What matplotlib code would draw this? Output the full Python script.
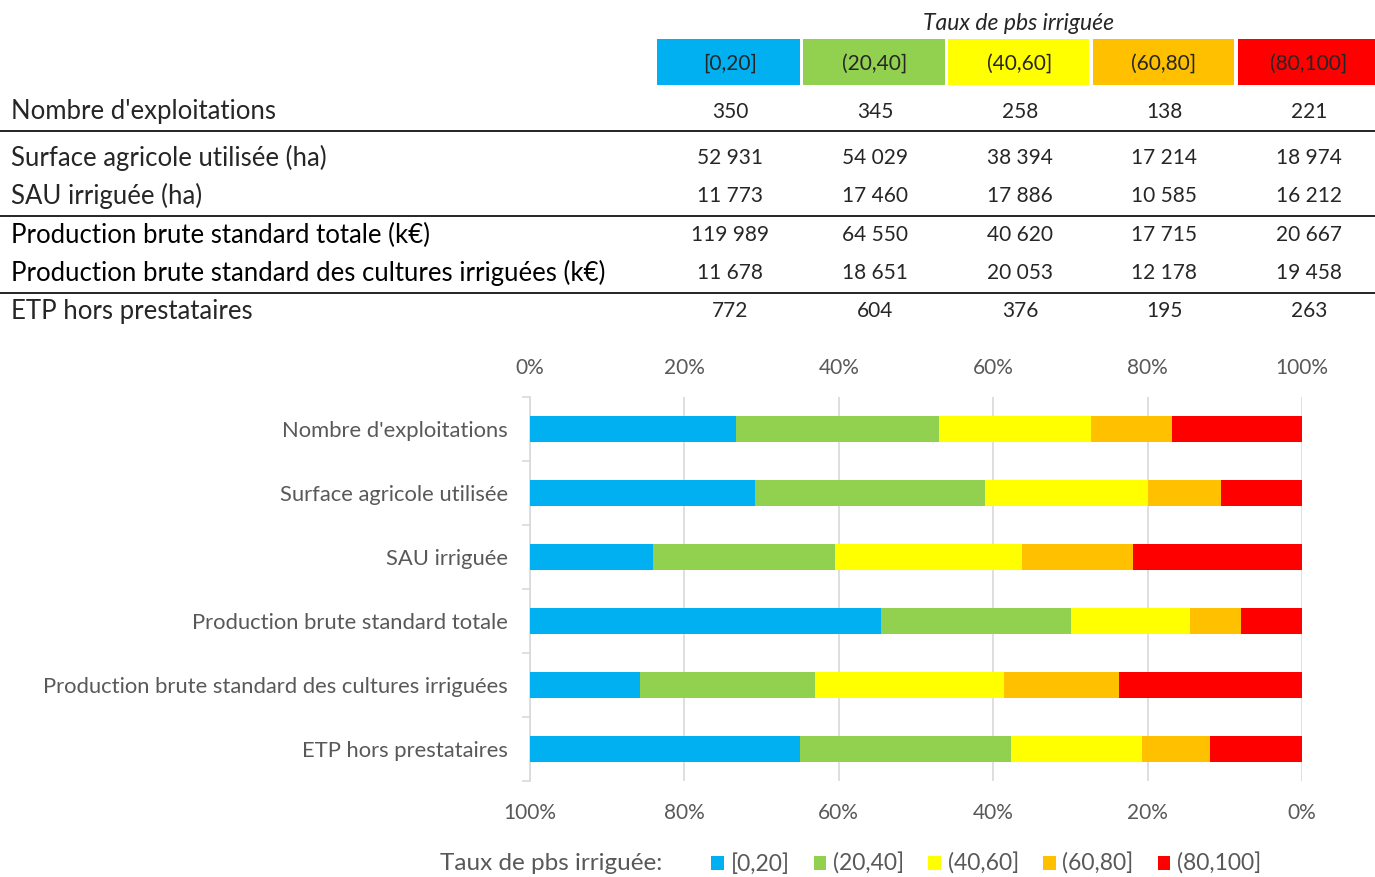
import numpy as np
import matplotlib
matplotlib.use("Agg")
import matplotlib.pyplot as plt
from matplotlib.patches import Rectangle, Patch

# ---------------- data ----------------
groups = ["[0,20]", "(20,40]", "(40,60]", "(60,80]", "(80,100]"]
colors = ["#00B0F0", "#92D050", "#FFFF00", "#FFC000", "#FF0000"]

table_rows = ["Nombre d'exploitations",
              "Surface agricole utilisée (ha)",
              "SAU irriguée (ha)",
              "Production brute standard totale (k€)",
              "Production brute standard des cultures irriguées (k€)",
              "ETP hors prestataires"]
nb_exploitations = [350, 345, 258, 138, 221]
sau = [52931, 54029, 38394, 17214, 18974]
sau_irriguee = [11773, 17460, 17886, 10585, 16212]
pbs_totale = [119989, 64550, 40620, 17715, 20667]
pbs_irriguee = [11678, 18651, 20053, 12178, 19458]
etp = [772, 604, 376, 195, 263]

bar_categories = ["Nombre d'exploitations",
                  "Surface agricole utilisée",
                  "SAU irriguée",
                  "Production brute standard totale",
                  "Production brute standard des cultures irriguées",
                  "ETP hors prestataires"]
pct_ticks = [0, 20, 40, 60, 80, 100]

values = np.array([nb_exploitations, sau, sau_irriguee, pbs_totale, pbs_irriguee, etp], dtype=float)
shares = values / values.sum(axis=1, keepdims=True) * 100

def fmt(v):
    return f"{v:,}".replace(",", "\u00a0")

W, H = 1375, 877
plt.rcParams['font.family'] = ['Lato', 'DejaVu Sans']
fig = plt.figure(figsize=(W / 100, H / 100), dpi=100)

# ---------------- table (pixel overlay) ----------------
tab = fig.add_axes([0, 0, 1, 1])
tab.set_xlim(0, W)
tab.set_ylim(H, 0)
tab.axis("off")

col_left = [657, 803, 948, 1093, 1238]
col_right = [800, 945, 1089, 1234, 1375]
col_center = [730, 875, 1020, 1164, 1309]
tab.text(1019, 24, "Taux de pbs irriguée", ha="center", va="center",
         fontsize=16.5, style="italic", color="#262626")
for i, g in enumerate(groups):
    tab.add_patch(Rectangle((col_left[i], 39), col_right[i] - col_left[i], 46,
                            facecolor=colors[i], edgecolor="none"))
    tab.text(col_center[i], 64, g, ha="center", va="center", fontsize=15,
             color="#262626")

row_y = [112, 158, 196, 235, 273, 311]
row_bold = [False, False, False, True, True, False]
for r, (lab, yy) in enumerate(zip(table_rows, row_y)):
    tab.text(11, yy, lab, ha="left", va="center", fontsize=18.5,
             color="#000000" if row_bold[r] else "#262626")
    for c in range(5):
        tab.text(col_center[c], yy, fmt(int(values[r, c])), ha="center", va="center",
                 fontsize=15, color="#262626")
for ly in [131, 216, 293]:
    tab.plot([0, W], [ly, ly], color="black", lw=1.2)

# ---------------- bar chart ----------------
ax = fig.add_axes([530 / W, 1 - 781 / H, (1302 - 530) / W, (781 - 397) / H])
y = np.arange(len(bar_categories))
left = np.zeros(len(bar_categories))
handles = []
for i, g in enumerate(groups):
    ax.barh(y, shares[:, i], left=left, height=0.4, color=colors[i], label=g, zorder=3)
    left += shares[:, i]
    handles.append(Patch(facecolor=colors[i], edgecolor="none", label=g))

ax.set_xlim(0, 100)
ax.set_ylim(len(bar_categories) - 0.5, -0.5)
ax.set_yticks(y)
ax.set_yticklabels(bar_categories)
ax.set_yticks(np.arange(-0.5, len(bar_categories) + 0.5, 1), minor=True)
ax.tick_params(axis="y", which="major", length=0, pad=16, labelsize=15.8, labelcolor="#595959")
ax.tick_params(axis="y", which="minor", length=6, color="#d9d9d9", width=1.2)

ax.set_xticks(pct_ticks)
ax.set_xticklabels([f"{t}%" for t in pct_ticks])
ax.xaxis.tick_top()
ax.tick_params(axis="x", length=0, pad=14, labelsize=15, labelcolor="#595959")
ax.grid(axis="x", color="#d9d9d9", lw=1.2, zorder=0)
for s in ["top", "right", "bottom"]:
    ax.spines[s].set_visible(False)
ax.spines["left"].set_color("#d9d9d9")
ax.spines["left"].set_linewidth(1.2)

sec = ax.secondary_xaxis("bottom", functions=(lambda v: 100 - v, lambda v: 100 - v))
sec.set_xticks(pct_ticks)
sec.set_xticklabels([f"{t}%" for t in pct_ticks])
sec.tick_params(axis="x", length=0, pad=16, labelsize=15, labelcolor="#595959")
for s in sec.spines.values():
    s.set_visible(False)

# ---------------- legend ----------------
fig.text(440 / W, 1 - 864 / H, "Taux de pbs irriguée:", ha="left", va="center",
         fontsize=17.5, color="#595959")
fig.legend(handles=handles, loc="center left", bbox_to_anchor=(711 / W, 1 - 864 / H),
           ncol=5, frameon=False, fontsize=16.5, labelcolor="#595959",
           handlelength=0.55, handleheight=0.55, handletextpad=0.3, columnspacing=1.05,
           borderaxespad=0, borderpad=0)

fig.savefig("out.png", dpi=100)
